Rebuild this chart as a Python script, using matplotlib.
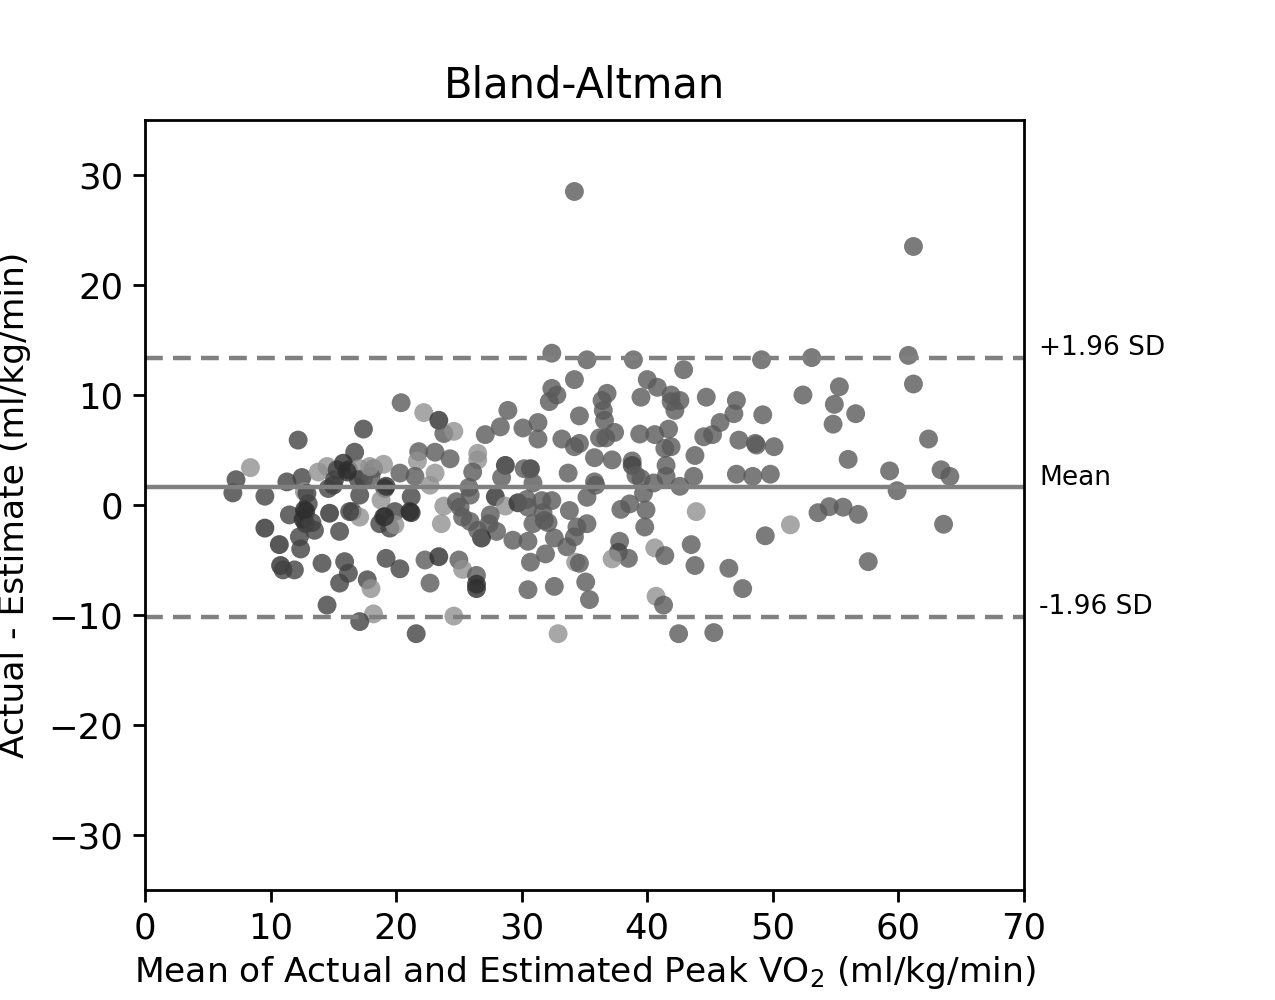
import numpy as np
import matplotlib
matplotlib.use("Agg")
import matplotlib.pyplot as plt

# ── data (x = mean, y = difference, g = shade group) ──
left_x = [20.4, 22.2, 17.4, 12.2, 16.7, 8.4, 7.25, 7.0, 9.55, 11.3, 12.5, 12.7, 13.0, 11.5,
          12.8, 12.8, 13.5, 12.3, 9.55, 10.7, 12.4, 10.8, 11.0, 11.9, 14.1, 14.5, 13.8, 14.5,
          15.3, 15.8, 16.2, 17.4, 15.0, 14.6, 17.1, 18.2, 19.0, 20.3, 19.1, 17.1, 18.8, 21.2,
          16.5, 17.1, 14.7, 15.5, 19.0, 19.9, 18.7, 19.5, 19.9, 19.2, 20.3, 15.9, 16.2, 15.5,
          17.7, 18.0, 18.2, 17.1, 21.6, 17.0, 18.0, 19.2, 12.9, 15.1, 12.6, 13.3, 16.3, 19.1,
          21.1, 17.9, 16.1, 12.7]
left_y = [9.3, 8.4, 6.9, 5.9, 4.8, 3.4, 2.3, 1.1, 0.8, 2.1, 2.5, 1.2, 0.1, -0.9,
          -0.6, -1.7, -2.3, -2.9, -2.1, -3.6, -4.0, -5.5, -5.9, -5.9, -5.3, -9.1, 3.0, 3.5,
          3.2, 3.8, 3.2, 2.4, 1.8, 1.5, 3.3, 3.3, 3.7, 2.9, 1.5, 0.9, 0.45, 0.75,
          -0.6, -1.1, -0.75, -2.4, -1.1, -0.6, -1.7, -2.1, -1.8, -4.85, -5.8, -5.15, -6.2, -7.1,
          -6.8, -7.6, -9.9, -10.6, -11.7, 2.3, 2.6, 1.7, 1.06, 2.3, -1.3, -1.6, -0.6, -1.06,
          -0.6, 3.5, 3.0, -0.45]
left_g = [2, 3, 1, 1, 1, 3, 1, 1, 1, 1, 1, 3, 1, 1,
          0, 0, 1, 1, 0, 0, 1, 0, 1, 1, 1, 1, 3, 3,
          1, 0, 0, 1, 0, 1, 3, 2, 3, 2, 1, 1, 3, 1,
          1, 3, 0, 1, 1, 1, 1, 1, 3, 1, 1, 1, 1, 1,
          1, 3, 3, 1, 1, 1, 2, 0, 1, 1, 0, 1, 1, 0,
          0, 3, 0, 0]

mid_x = [32.4, 35.2, 34.2, 32.4, 32.8, 32.2, 36.8, 36.4, 36.5, 36.6, 34.6, 23.4, 23.8, 24.6,
         28.9, 28.3, 27.1, 30.1, 31.3, 31.3, 33.2, 34.2, 34.6, 36.2, 36.7, 35.8, 33.7, 35.8,
         35.9, 35.2, 26.5, 26.5, 24.3, 23.1, 21.8, 21.7, 26.1, 23.1, 28.7, 28.4, 30.7, 30.2,
         30.9, 21.5, 22.7, 25.8, 25.9, 23.8, 25.1, 24.8, 27.9, 28.7, 29.7, 30.4, 30.5, 31.6,
         32.4, 21.2, 23.6, 25.3, 25.9, 27.5, 27.4, 28.0, 26.8, 26.5, 29.3, 30.5, 30.9, 31.7,
         31.8, 32.1, 33.8, 34.4, 35.2, 32.6, 33.6, 34.2, 31.9, 30.7, 34.3, 34.6, 22.3, 23.4,
         25.0, 25.3, 26.4, 26.4, 26.4, 22.7, 30.5, 32.6, 35.1, 35.4, 24.6, 32.9, 34.2]
mid_y = [13.8, 13.2, 11.4, 10.6, 10.0, 9.4, 10.15, 9.5, 8.6, 7.7, 8.1, 7.7, 6.5, 6.7,
         8.6, 7.1, 6.4, 7.0, 7.5, 6.0, 6.0, 5.3, 5.6, 6.1, 6.1, 4.3, 2.9, 2.1,
         1.8, 0.7, 4.7, 4.1, 4.2, 4.8, 4.85, 4.0, 3.0, 2.9, 3.6, 2.5, 3.3, 3.3,
         2.0, 2.6, 1.8, 1.6, 0.9, -0.1, -0.2, 0.3, 0.75, -0.1, 0.2, 0.5, -0.2, 0.4,
         0.4, -0.7, -1.7, -1.1, -1.5, -0.9, -1.7, -2.4, -3.0, -2.3, -3.2, -3.3, -1.7, -0.7,
         -1.4, -1.6, -0.5, -2.0, -1.7, -3.0, -3.8, -2.9, -4.45, -5.2, -5.2, -5.3, -5.0, -4.7,
         -5.0, -5.85, -6.4, -7.6, -7.2, -7.1, -7.7, -7.4, -7.0, -8.6, -10.1, -11.7, 28.5]
mid_g = [2, 2, 2, 2, 2, 2, 2, 2, 2, 2, 2, 0, 2, 3,
         2, 2, 2, 2, 2, 2, 2, 2, 2, 2, 2, 2, 2, 2,
         2, 2, 3, 3, 2, 2, 2, 3, 2, 3, 0, 2, 0, 2,
         2, 2, 3, 2, 2, 3, 2, 2, 0, 3, 0, 2, 2, 2,
         2, 0, 3, 2, 2, 2, 2, 2, 0, 2, 2, 2, 2, 2,
         2, 2, 2, 2, 2, 2, 2, 2, 2, 2, 3, 2, 2, 0,
         2, 3, 2, 0, 0, 2, 2, 2, 2, 2, 3, 3, 2]

right_x = [38.9, 42.9, 49.1, 40.0, 40.8, 39.5, 41.9, 42.6, 41.9, 42.2, 44.7, 47.1, 46.9, 49.2,
           45.8, 45.2, 44.5, 47.3, 48.7, 48.6, 50.1, 52.4, 37.4, 39.4, 40.6, 41.7, 41.4, 41.9,
           43.8, 37.2, 38.8, 38.8, 41.5, 39.1, 39.5, 41.5, 43.7, 47.1, 48.4, 49.8, 40.5, 42.6,
           39.7, 38.6, 37.9, 39.9, 39.8, 43.9, 37.8, 37.7, 38.5, 37.2, 40.6, 41.4, 43.5, 43.8,
           46.5, 47.6, 49.4, 51.4, 40.7, 41.3, 42.5, 45.3, 61.2, 53.1, 60.8, 61.2, 55.3, 54.9,
           56.6, 54.8, 62.4, 56.0, 59.3, 63.4, 64.1, 59.9, 53.6, 54.5, 55.6, 56.8, 63.6, 57.6]
right_y = [13.2, 12.3, 13.2, 11.4, 10.7, 9.8, 10.0, 9.5, 9.4, 8.6, 9.8, 9.5, 8.3, 8.2,
           7.5, 6.4, 6.2, 5.9, 5.45, 5.6, 5.3, 10.0, 6.6, 6.45, 6.4, 6.9, 5.15, 5.3,
           4.5, 4.1, 4.0, 3.6, 3.6, 2.7, 2.4, 2.6, 2.6, 2.8, 2.6, 2.8, 2.0, 1.7,
           1.06, 0.1, -0.4, -0.45, -2.0, -0.6, -3.3, -4.3, -4.85, -4.9, -3.9, -4.6, -3.6, -5.5,
           -5.75, -7.6, -2.8, -1.8, -8.3, -9.1, -11.7, -11.6, 23.5, 13.4, 13.6, 11.0, 10.75, 9.15,
           8.3, 7.35, 6.0, 4.15, 3.1, 3.2, 2.6, 1.3, -0.7, -0.15, -0.2, -0.85, -1.75, -5.15]
right_g = [2, 2, 2, 2, 2, 2, 2, 2, 2, 2, 2, 2, 2, 2,
           2, 2, 2, 2, 2, 2, 2, 2, 2, 2, 2, 2, 2, 2,
           2, 2, 2, 1, 2, 2, 2, 2, 2, 2, 2, 2, 2, 2,
           2, 2, 2, 2, 2, 3, 2, 1, 2, 3, 3, 2, 2, 2,
           2, 2, 2, 3, 3, 2, 2, 2, 2, 2, 2, 2, 2, 2,
           2, 2, 2, 2, 2, 2, 2, 2, 2, 2, 2, 2, 2, 2]

mean_diff = 1.6
upper_loa = 13.4
lower_loa = -10.2

shades = {0: "#2e2e2e", 1: "#424242", 2: "#5a5a5a", 3: "#919191"}

x = np.array(left_x + mid_x + right_x)
y = np.array(left_y + mid_y + right_y)
g = left_g + mid_g + right_g

# ── plot ─────────────────────────────────────────────────────────────────────
fig = plt.figure(figsize=(12.75, 10), dpi=100)
ax = fig.add_axes([0.1137, 0.11, 0.6894, 0.77])

ax.scatter(x, y, s=185, c=[shades[k] for k in g], alpha=0.8, linewidths=0)

ax.axhline(mean_diff, color="gray", lw=3.2)
ax.axhline(upper_loa, color="gray", lw=3.2, ls="--", dashes=(4, 2.3))
ax.axhline(lower_loa, color="gray", lw=3.2, ls="--", dashes=(4, 2.3))

ax.text(71.2, upper_loa - 0.3, "+1.96 SD", fontsize=19, va="bottom", ha="left")
ax.text(71.2, mean_diff - 0.3, "Mean", fontsize=19, va="bottom", ha="left")
ax.text(71.2, lower_loa - 0.3, "-1.96 SD", fontsize=19, va="bottom", ha="left")

ax.set_xlim(0, 70)
ax.set_ylim(-35, 35)
ax.set_xticks(range(0, 71, 10))
ax.set_yticks(range(-30, 31, 10))
ax.tick_params(labelsize=25.5, length=8.5, width=2, pad=7)
for sp in ax.spines.values():
    sp.set_linewidth(2)

ax.set_title("Bland-Altman", fontsize=30, pad=16)
ax.set_xlabel("Mean of Actual and Estimated Peak VO$_2$ (ml/kg/min)", fontsize=24.8, labelpad=6)
ax.set_ylabel("Actual - Estimate (ml/kg/min)", fontsize=24.8, labelpad=13)

fig.savefig("out.png", dpi=100)
